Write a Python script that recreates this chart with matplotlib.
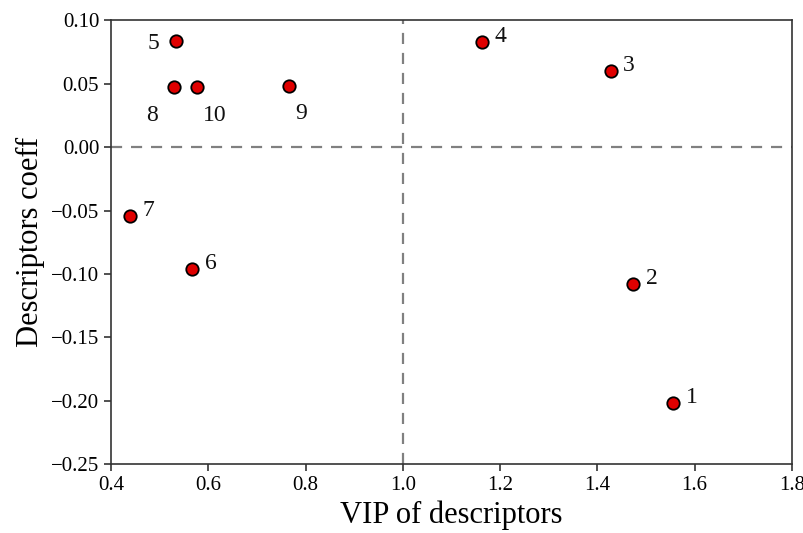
import numpy as np
import matplotlib
matplotlib.use('Agg')
import matplotlib.pyplot as plt

plt.rcParams['font.family'] = ['Liberation Serif', 'DejaVu Serif']

labels = ['1', '2', '3', '4', '5', '6', '7', '8', '9', '10']
vip = [1.556, 1.474, 1.427, 1.163, 0.533, 0.567, 0.440, 0.530, 0.767, 0.577]
coeff = [-0.202, -0.108, 0.060, 0.083, 0.084, -0.096, -0.054, 0.047, 0.048, 0.047]
# label offsets in points
offs = {'5': (-20, -2), '8': (-20, -20), '10': (4, -20), '9': (4, -20)}

fig = plt.figure(figsize=(8.04, 5.33), dpi=100)
ax = fig.add_axes([0.138, 0.129, 0.847, 0.833])

ax.axhline(0, color='gray', linestyle='--', linewidth=1.6, dashes=(5, 4), zorder=1)
ax.axvline(1.0, color='gray', linestyle='--', linewidth=1.6, dashes=(5, 4), zorder=1)
ax.scatter(vip, coeff, s=80, c='#e00000', edgecolors='black', linewidths=1.3, zorder=3)

for lb, x, y in zip(labels, vip, coeff):
    dx, dy = offs.get(lb, (9, 4))
    ax.annotate(lb, (x, y), xytext=(dx, dy), textcoords='offset points',
                fontsize=17, ha='left', va='center', color='#111111')

ax.set_xlim(0.4, 1.8)
ax.set_ylim(-0.25, 0.10)
ax.set_xticks(np.arange(0.4, 1.81, 0.2))
ax.set_yticks(np.arange(-0.25, 0.101, 0.05))
ax.tick_params(labelsize=15, length=5, width=1.2, color='#333333')
for sp in ax.spines.values():
    sp.set_color('#333333')
    sp.set_linewidth(1.2)
ax.set_xlabel('VIP of descriptors', fontsize=22)
ax.set_ylabel('Descriptors coeff', fontsize=22)

fig.savefig('out.png', dpi=100)
